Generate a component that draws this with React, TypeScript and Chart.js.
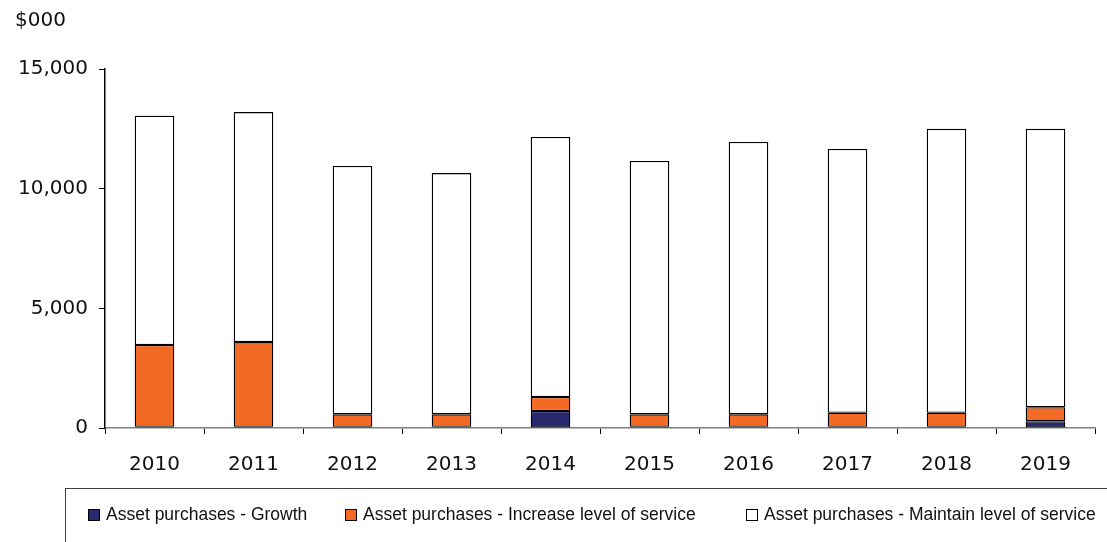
import React, { useEffect, useRef } from "react";
import { Chart, registerables } from "chart.js";

Chart.register(...registerables);

const years = ["2010", "2011", "2012", "2013", "2014", "2015", "2016", "2017", "2018", "2019"];
const growth = [50, 50, 50, 50, 710, 50, 50, 50, 50, 280];
const increaseService = [3420, 3540, 520, 520, 585, 520, 520, 590, 590, 585];
const maintainService = [9580, 9610, 10380, 10080, 10865, 10590, 11380, 11020, 11860, 11635];
const yTicks = [0, 5000, 10000, 15000];

const seriesNames = [
  "Asset purchases - Growth",
  "Asset purchases - Increase level of service",
  "Asset purchases - Maintain level of service",
];
const seriesColors = ["#28286F", "#F26A23", "#FFFFFF"];

const FONT = "'DejaVu Sans', sans-serif";

export default function App() {
  const ref = useRef<HTMLCanvasElement | null>(null);
  useEffect(() => {
    if (!ref.current) return;
    const chart = new Chart(ref.current, {
      type: "bar",
      data: {
        labels: years,
        datasets: [growth, increaseService, maintainService].map((d, i) => ({
          label: seriesNames[i],
          data: d,
          backgroundColor: seriesColors[i],
          borderColor: "#000000",
          borderWidth: 1.3,
          borderSkipped: false,
          categoryPercentage: 0.4,
          barPercentage: 1,
        })),
      },
      options: {
        animation: false,
        responsive: false,
        devicePixelRatio: 1,
        layout: { padding: { left: 0, right: 12, top: 69, bottom: 46 } },
        plugins: { legend: { display: false }, tooltip: { enabled: false } },
        scales: {
          x: {
            stacked: true,
            grid: {
              offset: true,
              drawOnChartArea: false,
              drawTicks: true,
              tickLength: 6,
              color: "#000000",
            },
            border: { display: true, color: "#808080", width: 1.5 },
            ticks: { color: "#111111", font: { family: FONT, size: 20 }, padding: 19 },
          },
          y: {
            stacked: true,
            min: 0,
            max: 15000,
            afterBuildTicks: (scale: any) => {
              scale.ticks = yTicks.map((v) => ({ value: v }));
            },
            afterFit: (scale: any) => {
              scale.width = 105;
            },
            grid: {
              drawOnChartArea: false,
              drawTicks: true,
              tickLength: 6,
              color: "#000000",
            },
            border: { display: true, color: "#000000", width: 1.5 },
            ticks: {
              color: "#111111",
              font: { family: FONT, size: 20 },
              padding: 11,
              callback: (v: any) => Number(v).toLocaleString("en-US"),
            },
          },
        },
      },
    });
    return () => chart.destroy();
  }, []);

  const legendLeft = [88, 345, 746];
  return (
    <div style={{ position: "fixed", left: 0, top: 0, width: 1107, height: 542, overflow: "hidden", background: "#fff" }}>
      <canvas ref={ref} width={1107} height={542} style={{ position: "absolute", left: 0, top: 0 }} />
      <div style={{ position: "absolute", left: 15, top: 7, fontFamily: FONT, fontSize: 20, color: "#111" }}>$000</div>
      <div
        style={{
          position: "absolute",
          left: 65,
          top: 488,
          width: 1100,
          height: 100,
          border: "1px solid #404040",
          boxSizing: "border-box",
        }}
      />
      {seriesNames.map((n, i) => (
        <div
          key={n}
          style={{
            position: "absolute",
            left: legendLeft[i],
            top: 504,
            display: "flex",
            alignItems: "center",
            fontFamily: "'Liberation Sans', Arial, sans-serif",
            fontSize: 17.5,
            color: "#111",
            whiteSpace: "nowrap",
          }}
        >
          <span
            style={{
              display: "inline-block",
              width: 10,
              height: 10,
              background: seriesColors[i],
              border: "1px solid #000",
              marginRight: 6,
            }}
          />
          {n}
        </div>
      ))}
    </div>
  );
}
